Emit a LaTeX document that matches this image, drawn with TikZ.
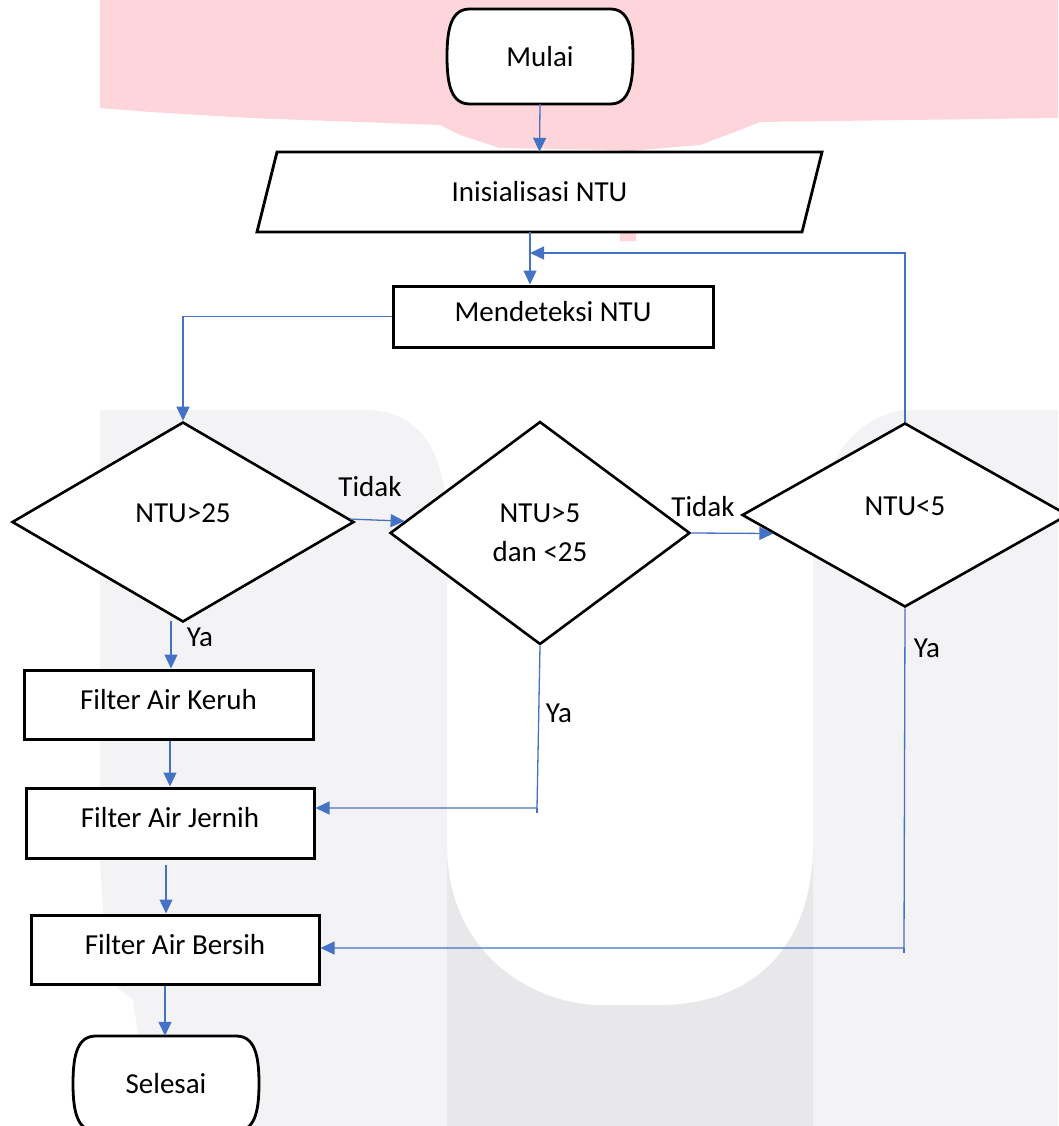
\documentclass[tikz,border=0pt]{standalone}
\usepackage{fontspec}
\setmainfont{Carlito}
\usetikzlibrary{arrows.meta,shapes.geometric}
\definecolor{flow}{RGB}{68,114,196}
\definecolor{wmpink}{RGB}{253,213,218}
\definecolor{wmgray}{RGB}{243,243,245}
\definecolor{wmdark}{RGB}{232,232,234}
\begin{document}
\begin{tikzpicture}[x=1pt,y=-1pt,
  every node/.style={font=\fontsize{29}{35}\selectfont, inner sep=0pt},
  terminal/.style={rectangle, minimum width=186pt, minimum height=95pt},
  process/.style={rectangle, draw, fill=white, line width=3pt, text height=9pt, text depth=0pt},
  decision/.style={diamond, draw, fill=white, line width=2.6pt},
  onel/.style={text height=0pt, text depth=0pt},
  boxline/.style={draw, fill=white, line width=2.8pt, line join=miter},
  conn/.style={draw=flow, line width=1.3pt},
  arr/.style={conn, -{Triangle[length=14pt,width=13pt]}}
]
\useasboundingbox (0,0) rectangle (1058,1126);
% watermark background
\fill[wmpink] (100,0) -- (1058,0) -- (1058,118) -- (760,122) -- (740,130) -- (700,145) -- (640,150) -- (636,150) -- (636,241) -- (620,241) -- (620,150) -- (500,148) -- (460,135) -- (440,125) -- (250,118) -- (150,112) -- (100,108) -- cycle;
\fill[wmgray] (100,410) -- (368,410) .. controls (420,412) and (447,450) .. (447,530) -- (447,1126) -- (152,1126) -- (133,1000) -- (107,980) -- (100,860) -- cycle;
\fill[wmgray] (904,410) -- (1058,410) -- (1058,1126) -- (813,1126) -- (813,560) .. controls (813,470) and (850,418) .. (904,410) -- cycle;
\fill[wmdark] (447,850) .. controls (450,960) and (540,1005) .. (600,1005) -- (660,1005) .. controls (740,1005) and (810,960) .. (813,850) -- (813,1126) -- (447,1126) -- cycle;

% terminal outlines
\draw[boxline, line join=round, shift={(540,56.5)}] (-70,-47.5) -- (70,-47.5) .. controls (88,-47.5) and (93,-30) .. (93,0) .. controls (93,30) and (88,47.5) .. (70,47.5) -- (-70,47.5) .. controls (-88,47.5) and (-93,30) .. (-93,0) .. controls (-93,-30) and (-88,-47.5) .. (-70,-47.5) -- cycle;
\draw[boxline, line join=round, shift={(166,1083.5)}] (-70,-47.5) -- (70,-47.5) .. controls (88,-47.5) and (93,-30) .. (93,0) .. controls (93,30) and (88,47.5) .. (70,47.5) -- (-70,47.5) .. controls (-88,47.5) and (-93,30) .. (-93,0) .. controls (-93,-30) and (-88,-47.5) .. (-70,-47.5) -- cycle;
% parallelogram outline
\coordinate (initc) at (539.5,192);
\draw[boxline] (initc) +(-262.5,-40) -- +(282.5,-40) -- +(262.5,40) -- +(-282.5,40) -- cycle;

% nodes
\node[terminal] (start) at (540,56.5) {Mulai};
\node[minimum width=545pt, minimum height=80pt] (init) at (initc) {Inisialisasi NTU};
\node[process, minimum width=320pt, minimum height=61pt] (detect) at (553,316.5) {Mendeteksi NTU};
\node[decision, onel, minimum width=342pt, minimum height=200pt] (d1) at (183,522) {NTU>25};
\node[decision, align=center, minimum width=300pt, minimum height=223pt] (d2) at (540,533) {NTU>5\\[4pt]dan <25};
\node[decision, onel, minimum width=326pt, minimum height=184pt] (d3) at (905,515) {NTU<5};
\node[process, minimum width=289pt, minimum height=69pt] (keruh) at (168.5,704.5) {Filter Air Keruh};
\node[process, minimum width=288pt, minimum height=70pt] (jernih) at (170,823) {Filter Air Jernih};
\node[process, minimum width=288pt, minimum height=69pt] (bersih) at (175,949.5) {Filter Air Bersih};
\node[terminal] (stop) at (166,1083.5) {Selesai};

% labels
\node (t1) at (370,487) {Tidak};
\node (t2) at (703,507) {Tidak};
\node (y1) at (200,637) {Ya};
\node (y2) at (559,713) {Ya};
\node (y3) at (927,648) {Ya};

% connectors
\draw[arr] (start.south) -- (init.north);
\draw[arr] ([xshift=-9.5pt]init.south) -- ([xshift=-23pt]detect.north);
\coordinate (loopin) at (530,253);
\draw[arr] (d3.north) |- (loopin);
\draw[arr] (detect.west) -| (d1.north);
\draw[arr] (d1.1) -- (d2.175);
\draw[arr] (d2.east) -- (d3.188);
\coordinate (a1) at ([xshift=-12pt,yshift=2pt]d1.south);
\draw[arr] (a1) -- (a1 |- keruh.north);
\coordinate (a2) at ([xshift=1.5pt]keruh.south);
\draw[arr] (a2) -- (a2 |- jernih.north);
\coordinate (a3) at ([xshift=-4pt,yshift=-5pt]jernih.south);
\draw[arr] (a3) -- (a3 |- bersih.north);
\coordinate (a4) at ([xshift=-10pt]bersih.south);
\draw[arr] (a4) -- (a4 |- stop.north);
\coordinate (c2) at (537,808);
\draw[arr] (d2.south) -- (c2) -- (c2 -| jernih.east);
\draw[conn] (c2) -- ++(0,5);
\coordinate (c3) at (904,948);
\draw[arr] (d3.south) -- (c3) -- (c3 -| bersih.east);
\draw[conn] (c3) -- ++(0,5);
\end{tikzpicture}
\end{document}
